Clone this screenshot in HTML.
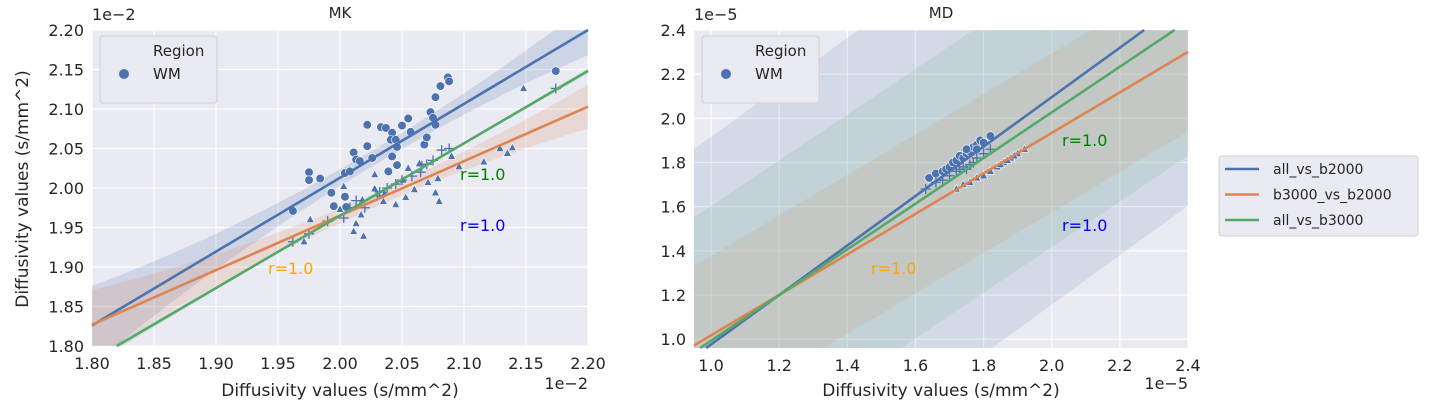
<!DOCTYPE html>
<html><head><meta charset="utf-8"><style>
html,body{margin:0;padding:0;background:#fff;width:1432px;height:407px;overflow:hidden;font-family:"Liberation Sans","DejaVu Sans",sans-serif}
svg{display:block}
svg text{font-family:"DejaVu Sans","Liberation Sans",sans-serif;fill:#262626}
</style></head><body>
<svg id="c" width="1432" height="407" xmlns="http://www.w3.org/2000/svg"></svg>
<script>
// ---- MK data ----
const mkCircleX=[1.962,1.975,1.975,1.984,1.993,1.995,2.004,2.004,2.008,2.011,2.013,2.016,2.022,2.022,2.026,2.033,2.037,2.042,2.039,2.042,2.041,2.045,2.046,2.046,2.050,2.055,2.057,2.068,2.070,2.073,2.075,2.077,2.077,2.081,2.087,2.088,2.174,2.005];
const mkCircleY=[1.971,2.020,2.010,2.012,1.994,1.977,1.989,2.019,2.021,2.045,2.036,2.034,2.080,2.053,2.038,2.077,2.076,2.070,2.021,2.040,2.061,2.061,2.052,2.029,2.079,2.088,2.071,2.055,2.064,2.096,2.089,2.080,2.115,2.129,2.140,2.135,2.148,1.976];
const mkTriX=[1.976,1.971,2.003,2.011,2.019,2.013,2.017,2.018,2.028,2.028,2.035,2.045,2.053,2.055,2.060,2.064,2.071,2.077,2.080,2.079,2.090,2.096,2.116,2.129,2.135,2.139,2.148,2.000,2.036,2.051];
const mkTriY=[1.960,1.932,2.002,1.945,1.939,1.955,1.966,1.985,2.017,1.999,1.983,1.979,1.988,2.025,1.998,2.031,2.007,1.994,1.983,2.012,2.040,2.027,2.033,2.050,2.044,2.051,2.126,1.973,1.993,2.010];
const mkPlusX=[1.962,1.975,1.990,2.003,2.008,2.013,2.020,2.030,2.038,2.045,2.050,2.058,2.065,2.070,2.075,2.082,2.088,2.174,2.032,2.066];
const mkPlusY=[1.932,1.942,1.958,1.962,1.975,1.984,1.975,1.990,2.000,2.005,2.010,2.015,2.020,2.030,2.035,2.048,2.050,2.126,1.995,2.028];
const mkSlopes=[0.935,0.690,0.916];
const mkIntercepts=[0.1430,0.5850,0.1330];
const mkBand=[0.040,0.035,0.004];
// ---- MD data ----
const mdCircleX=[1.64,1.66,1.68,1.69,1.70,1.71,1.72,1.73,1.74,1.75,1.76,1.77,1.78,1.79,1.80,1.82,1.75,1.78];
const mdCircleY=[1.73,1.75,1.76,1.77,1.78,1.80,1.81,1.83,1.82,1.84,1.85,1.87,1.88,1.90,1.89,1.92,1.86,1.86];
const mdPlusX=[1.63,1.66,1.68,1.70,1.72,1.74,1.75,1.77,1.78,1.80,1.82,1.73,1.76];
const mdPlusY=[1.68,1.71,1.72,1.74,1.76,1.78,1.77,1.80,1.82,1.84,1.86,1.77,1.79];
const mdTriX=[1.72,1.74,1.76,1.78,1.80,1.82,1.84,1.86,1.88,1.90,1.92,1.85,1.87,1.89];
const mdTriY=[1.68,1.70,1.71,1.73,1.74,1.76,1.78,1.80,1.82,1.84,1.86,1.79,1.81,1.83];
const mdSlopes=[1.12,0.917,1.034];
const mdIntercepts=[-0.144,0.100,-0.041];
const mdBand=[0.94,0.36,0.61];
const mkTicks=["1.80","1.85","1.90","1.95","2.00","2.05","2.10","2.15","2.20"];
const mdTicks=["1.0","1.2","1.4","1.6","1.8","2.0","2.2","2.4"];
const seriesNames=["all_vs_b2000","b3000_vs_b2000","all_vs_b3000"];
const colors=["#4c72b0","#dd8452","#55a868"];

const svg=document.getElementById('c');
const NS="http://www.w3.org/2000/svg";
function mk(tag,attrs,parent,name,text){const e=document.createElementNS(NS,tag);for(const k in attrs)e.setAttribute(k,attrs[k]);


if(text!==undefined)e.textContent=text;(parent||svg).appendChild(e);return e;}

function panel(o){
 const g=mk('g',{},svg,o.name);
 const sx=v=>o.x0+(v-o.xmin)/(o.xmax-o.xmin)*(o.x1-o.x0);
 const sy=v=>o.y1-(v-o.ymin)/(o.ymax-o.ymin)*(o.y1-o.y0);
 const cy=v=>Math.min(o.y1,Math.max(o.y0,sy(v)));
 mk('rect',{x:o.x0,y:o.y0,width:o.x1-o.x0,height:o.y1-o.y0,fill:'#eaeaf2'},g,'plot-background');
 o.ticks.forEach(t=>{const v=parseFloat(t);
  const X=sx(v);mk('line',{x1:X,x2:X,y1:o.y0,y2:o.y1,stroke:'#fff','stroke-width':1.2},g,'x-gridline');
  mk('text',{x:X,y:o.y1+23,'text-anchor':'middle','font-size':16},g,'x-tick-label',t);
  const Y=sy(v);if(v>=o.ymin-1e-9){mk('line',{x1:o.x0,x2:o.x1,y1:Y,y2:Y,stroke:'#fff','stroke-width':1.2},g,'y-gridline');
  mk('text',{x:o.x0-8,y:Y+6,'text-anchor':'end','font-size':16},g,'y-tick-label',t);}
 });
 const pg=mk('g',{},g,'plot-area');
 [0,1,2].forEach(i=>{
  const s=o.slopes[i],b=o.ints[i];const pts=[],pb=[];const N=200;
  for(let k=0;k<=N;k++){const x=o.xmin+(o.xmax-o.xmin)*k/N;
   const w=o.curved? o.band[i]*(0.25+Math.pow((x-2.03)/0.23,2)) : o.band[i];
   pts.push(sx(x).toFixed(2)+','+cy(s*x+b+w).toFixed(2));pb.unshift(sx(x).toFixed(2)+','+cy(s*x+b-w).toFixed(2));}
  mk('polygon',{points:pts.concat(pb).join(' '),fill:colors[i],'fill-opacity':o.curved?0.18:0.14},pg,'confidence-band-'+seriesNames[i]);
 });
 const mw={fill:o.mcol,stroke:'#fff','stroke-width':0.6};
 o.cx.forEach((x,i)=>mk('circle',Object.assign({cx:sx(x),cy:sy(o.cy[i]),r:4.3},mw),pg,'point-circle'));
 o.tx.forEach((x,i)=>{const X=sx(x),Y=sy(o.ty[i]);mk('polygon',Object.assign({points:`${X},${Y-4.5} ${X+4},${Y+3} ${X-4},${Y+3}`},mw),pg,'point-triangle');});
 o.px.forEach((x,i)=>{const X=sx(x),Y=sy(o.py[i]);mk('path',{d:`M${X-5},${Y}H${X+5}M${X},${Y-5}V${Y+5}`,stroke:o.mcol,'stroke-width':1.3},pg,'point-plus');});
 [0,1,2].forEach(i=>{const s=o.slopes[i],b=o.ints[i];
  let xa=Math.max(o.xmin,(o.ymin-b)/s), xb=Math.min(o.xmax,(o.ymax-b)/s);
  mk('line',{x1:sx(xa),y1:sy(s*xa+b),x2:sx(xb),y2:sy(s*xb+b),stroke:colors[i],'stroke-width':2.6},pg,'regression-line-'+seriesNames[i]);});
 mk('text',{x:(o.x0+o.x1)/2,y:18,'text-anchor':'middle','font-size':15},g,'chart-title',o.title);
 mk('text',{x:o.x0,y:20,'font-size':16},g,'y-offset-label',o.exp);
 mk('text',{x:o.x1,y:389,'text-anchor':'end','font-size':16},g,'x-offset-label',o.exp);
 mk('text',{x:(o.x0+o.x1)/2,y:396,'text-anchor':'middle','font-size':17},g,'x-axis-title','Diffusivity values (s/mm^2)');
 o.rl.forEach((r,i)=>mk('text',{x:r[0],y:r[1],'font-size':16,style:'fill:'+r[2]},g,'r-annotation','r=1.0'));
 const lg=mk('g',{},g,'region-legend');
 mk('rect',{x:o.x0+8,y:36,width:117,height:67,rx:3,fill:'#eaeaf2',stroke:'#d0d0d8'},lg,'legend-box');
 mk('text',{x:o.x0+61,y:56,'font-size':15},lg,'legend-title','Region');
 mk('circle',{cx:o.x0+32,cy:74,r:5,fill:o.mcol},lg,'legend-marker');
 mk('text',{x:o.x0+61,y:79,'font-size':15},lg,'legend-label','WM');
}
panel({name:'mk-panel',title:'MK',exp:'1e\u22122',x0:92,x1:588,y0:30,y1:346,xmin:1.80,xmax:2.20,ymin:1.80,ymax:2.20,
 ticks:mkTicks,slopes:mkSlopes,ints:mkIntercepts,band:mkBand,curved:true,mcol:'#4c72b0',
 cx:mkCircleX,cy:mkCircleY,tx:mkTriX,ty:mkTriY,px:mkPlusX,py:mkPlusY,
 rl:[[460,180,'green'],[460,231,'blue'],[268,274,'orange']]});
panel({name:'md-panel',title:'MD',exp:'1e\u22125',x0:694,x1:1188,y0:30,y1:348,xmin:0.95,xmax:2.40,ymin:0.96,ymax:2.40,
 ticks:mdTicks,slopes:mdSlopes,ints:mdIntercepts,band:mdBand,curved:false,mcol:'#4c72b0',
 cx:mdCircleX,cy:mdCircleY,tx:mdTriX,ty:mdTriY,px:mdPlusX,py:mdPlusY,
 rl:[[1062,146,'green'],[1062,231,'blue'],[871,274,'orange']]});
mk('text',{x:0,y:0,'text-anchor':'middle','font-size':17,transform:'translate(28,189) rotate(-90)'},svg,'y-axis-title','Diffusivity values (s/mm^2)');
const L=mk('g',{},svg,'series-legend');
mk('rect',{x:1219,y:156,width:199,height:80,rx:3,fill:'#eaeaf2',stroke:'#d0d0d8'},L,'series-legend-box');
seriesNames.forEach((n,i)=>{const y=169+i*25.5;
 mk('line',{x1:1225,x2:1259,y1:y,y2:y,stroke:colors[i],'stroke-width':2.6},L,'legend-line-'+n);
 mk('text',{x:1273,y:y+5,'font-size':14},L,'legend-label-'+n,n);});
</script>
</body></html>
